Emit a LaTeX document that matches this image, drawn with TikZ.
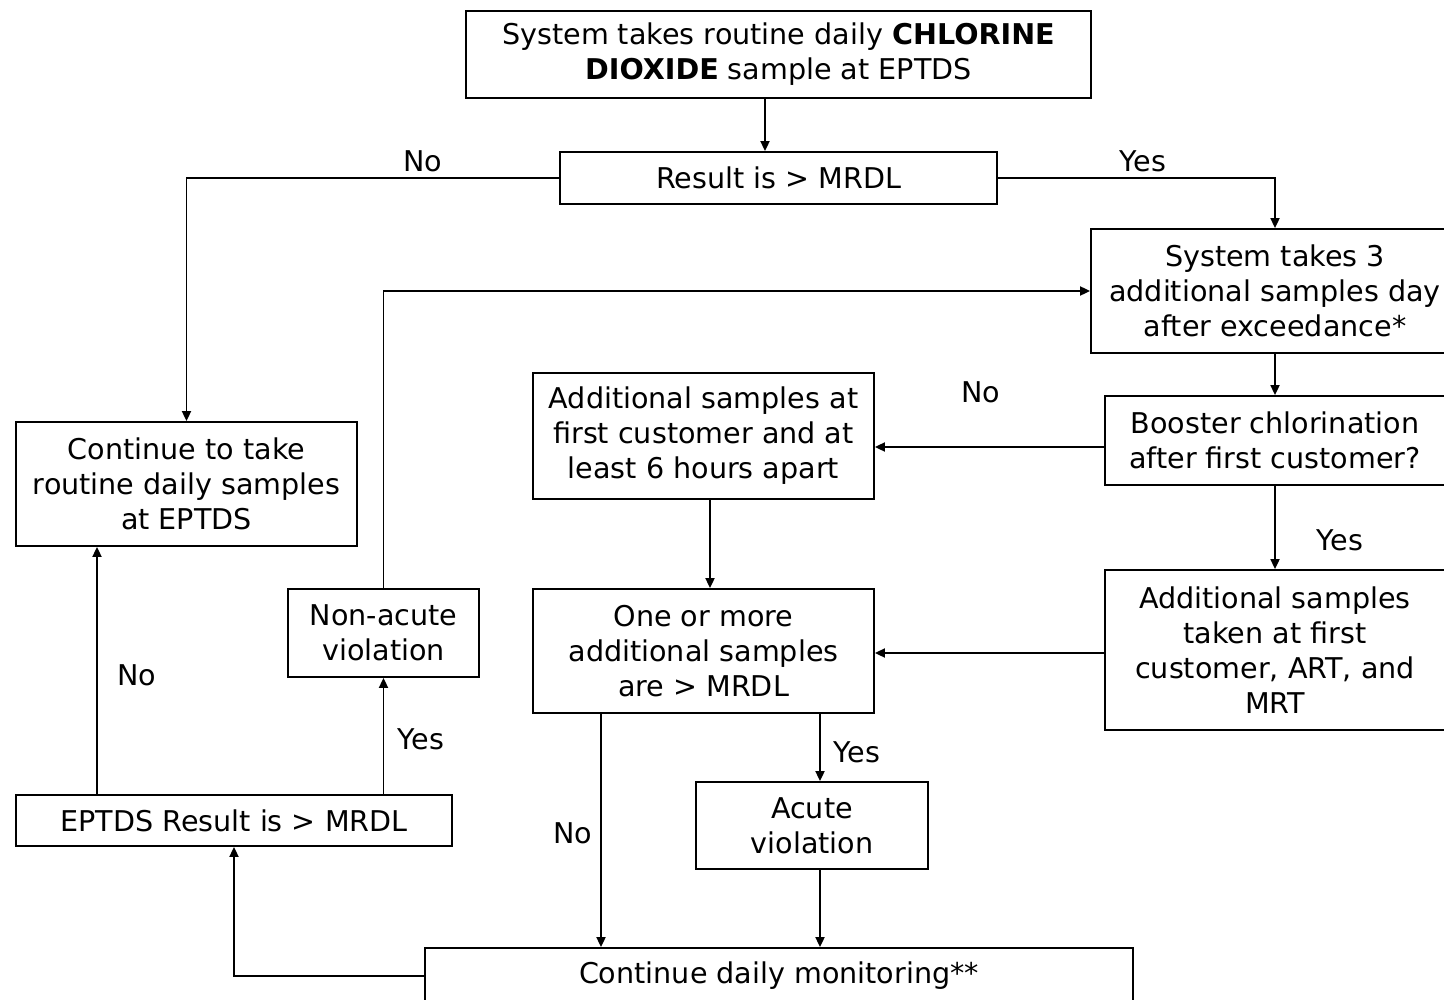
\documentclass[tikz,border=0pt]{standalone}
\usepackage{fontspec}
\setmainfont{DejaVu Sans}
\usetikzlibrary{arrows.meta}

\begin{document}
\begin{tikzpicture}[x=0.5pt,y=-0.5pt,
    box/.style={draw, line width=0.9pt, align=center, inner sep=0pt,
        font=\fontsize{14.3}{17.5}\selectfont},
    arr/.style={-{Triangle[length=5pt,width=4.5pt]}, line width=0.9pt},
    lbl/.style={font=\fontsize{14.3}{17.5}\selectfont}]
    % Page
    \fill[white] (0,0) rectangle (1444,1000);
    \useasboundingbox (0,0) rectangle (1444,1000);

    % Boxes
    \node[box, minimum width=312.5pt, minimum height=43.5pt] (top) at (778.5,54.5)
        {System takes routine daily \textbf{CHLORINE}\\\textbf{DIOXIDE} sample at EPTDS};
    \node[box, minimum width=218.5pt, minimum height=26pt] (res) at (778.5,178) {Result is > MRDL};
    \node[box, minimum width=184pt, minimum height=62pt] (sys) at (1275,291)
        {System takes 3\\additional samples day\\after exceedance*};
    \node[box, minimum width=170pt, minimum height=44.5pt] (boost) at (1275,440.5)
        {Booster chlorination\\after first customer?};
    \node[box, minimum width=170pt, minimum height=80pt] (addr) at (1275,650)
        {Additional samples\\taken at first\\customer, ART, and\\MRT};
    \node[box, minimum width=170.5pt, minimum height=63pt] (addf) at (703.5,436)
        {Additional samples at\\first customer and at\\least 6 hours apart};
    \node[box, minimum width=170.5pt, minimum height=62pt] (more) at (703.5,651)
        {One or more\\additional samples\\are > MRDL};
    \node[box, minimum width=170.5pt, minimum height=62pt] (cont) at (186.5,484)
        {Continue to take\\routine daily samples\\at EPTDS};
    \node[box, minimum width=95.5pt, minimum height=44pt] (nonac) at (383.5,633)
        {Non-acute\\violation};
    \node[box, minimum width=218pt, minimum height=25.5pt] (ept) at (234,820.5)
        {EPTDS Result is > MRDL};
    \node[box, minimum width=116pt, minimum height=43.5pt] (acute) at (812,825.5)
        {Acute\\violation};
    \node[box, minimum width=354pt, minimum height=28pt] (mon) at (779,976)
        {Continue daily monitoring**};

    % Connectors
    \draw[arr] ([xshift=-6.75pt]top.south) -- ([xshift=-6.75pt]res.north);
    \draw[arr] (res.west) -| (cont.north);
    \draw[arr] (res.east) -| (sys.north);
    \draw[arr] (sys.south) -- (boost.north);
    \draw[arr] ([yshift=-3.25pt]boost.west) -- ([yshift=-3.25pt]boost.west -| addf.east);
    \draw[arr] (boost.south) -- (addr.north);
    \draw[arr] ([yshift=-1.5pt]addr.west) -- ([yshift=-1.5pt]addr.west -| more.east);
    \draw[arr] ([xshift=3.25pt]addf.south) -- ([xshift=3.25pt]more.north);
    \draw[arr] ([xshift=4pt]acute.north |- more.south) -- ([xshift=4pt]acute.north);
    \draw[arr] ([xshift=-51.25pt]more.south) -- ([xshift=-51.25pt]more.south |- mon.north);
    \draw[arr] ([xshift=4pt]acute.south) -- ([xshift=4pt]acute.south |- mon.north);
    \draw[arr] (mon.west) -| (ept.south);
    \draw[arr] ([xshift=-68.5pt]ept.north) -- ([xshift=-68.5pt]ept.north |- cont.south);
    \draw[arr] (nonac.south |- ept.north) -- (nonac.south);
    \draw[arr] (nonac.north) |- (sys.west);

    % Labels
    \node[lbl] (l1) at (423,161) {No};
    \node[lbl] (l2) at (1143,161) {Yes};
    \node[lbl] (l3) at (981,392) {No};
    \node[lbl] (l4) at (1340,540) {Yes};
    \node[lbl] (l5) at (857,752) {Yes};
    \node[lbl] (l6) at (573,833) {No};
    \node[lbl] (l7) at (137,675) {No};
    \node[lbl] (l8) at (421,739) {Yes};
\end{tikzpicture}
\end{document}
